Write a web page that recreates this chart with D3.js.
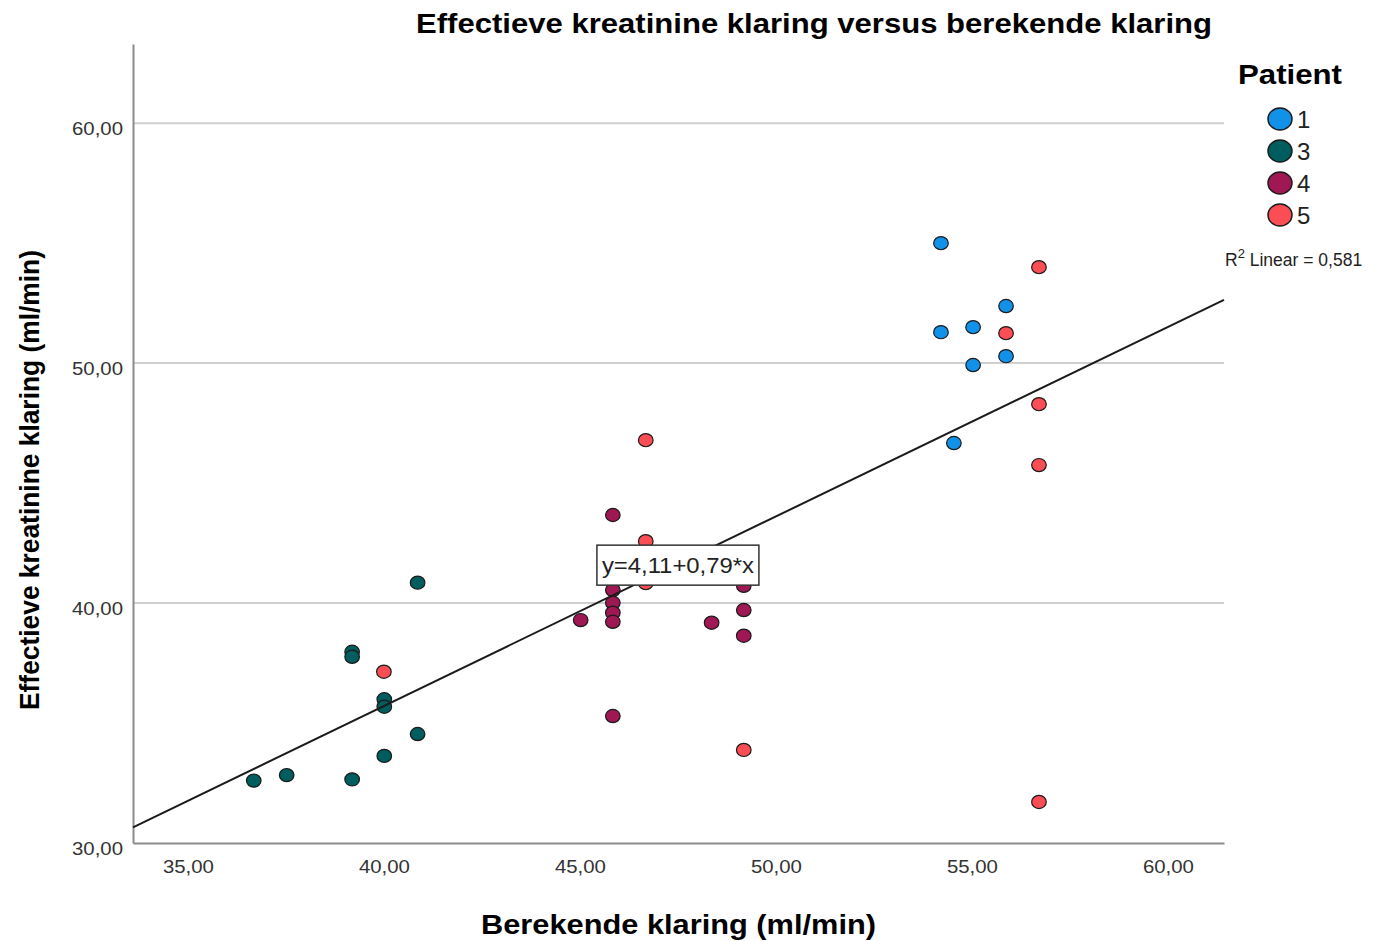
<!DOCTYPE html>
<html>
<head>
<meta charset="utf-8">
<script src="https://cdn.jsdelivr.net/npm/d3@7"></script>
<style>
  body { margin: 0; background: #fff; }
  text { font-family: "Liberation Sans", Arial, sans-serif; }
</style>
</head>
<body>
<svg width="1391" height="941"></svg>
<script>
// Patients and colours (SPSS / carbon palette)
const patients = ["1", "3", "4", "5"];
const colors = ["#1192e8", "#005d5d", "#9f1853", "#fa4d56"];

// Points per patient: [berekende klaring, effectieve klaring]
const patient1 = [[54.21, 55.0], [54.21, 51.29], [55.03, 51.5], [55.03, 49.92],
                  [55.87, 52.38], [55.87, 50.29], [54.54, 46.67]];
const patient3 = [[40.86, 40.85], [39.19, 37.97], [39.19, 37.76], [40.01, 35.99],
                  [40.01, 35.68], [40.86, 34.54], [40.01, 33.63], [37.52, 32.83],
                  [36.68, 32.6], [39.19, 32.65]];
const patient4 = [[45.84, 43.67], [45.84, 40.54], [45.84, 40.01], [45.84, 39.6],
                  [45.84, 39.22], [45.02, 39.29], [48.36, 39.18], [49.18, 40.72],
                  [49.18, 39.71], [49.18, 38.64], [45.84, 35.29]];
const patient5 = [[56.71, 54.0], [55.87, 51.25], [56.71, 48.29], [56.71, 45.75],
                  [56.71, 31.71], [46.68, 46.79], [46.68, 42.58], [46.68, 40.83],
                  [49.18, 33.88], [40.0, 37.14]];
const series = [patient1, patient3, patient4, patient5];

// Fit line y = a + b*x
const intercept = 4.11, slope = 0.79;
const fitLabel = "y=4,11+0,79*x";
const r2 = "0,581";

const xTicks = [35, 40, 45, 50, 55, 60];
const yTicks = [30, 40, 50, 60];

const svg = d3.select("svg");
const plot = {left: 133, right: 1224, top: 44, bottom: 843};

const x = d3.scaleLinear().domain([33.6, 61.43]).range([plot.left, plot.right]);
const y = d3.scaleLinear().domain([30, 63.3]).range([plot.bottom, plot.top]);
const fmt = d => d3.format(".2f")(d).replace(".", ",");

// Gridlines
svg.append("g")
  .selectAll("line")
  .data(yTicks.filter(d => d > 30))
  .enter()
  .append("line")
    .attr("x1", plot.left).attr("x2", plot.right)
    .attr("y1", d => y(d)).attr("y2", d => y(d))
    .attr("stroke", "#cfcfcf")
    .attr("stroke-width", 2);

// Axes
const xAxis = svg.append("g")
  .attr("transform", `translate(0,${plot.bottom})`)
  .call(d3.axisBottom(x).tickValues(xTicks).tickFormat(fmt).tickSize(0));
const yAxis = svg.append("g")
  .attr("transform", `translate(${plot.left},0)`)
  .call(d3.axisLeft(y).tickValues(yTicks).tickFormat(fmt).tickSize(0).tickPadding(10));
[xAxis, yAxis].forEach(g => {
  g.select(".domain").attr("stroke", "#8c8c8c").attr("stroke-width", 2);
  g.selectAll("text").attr("font-size", 18).attr("fill", "#333")
    .attr("font-family", "Liberation Sans, Arial, sans-serif")
    .attr("textLength", 51).attr("lengthAdjust", "spacingAndGlyphs");
});
xAxis.selectAll("text").attr("y", 0).attr("dy", 30);
yAxis.selectAll("text").attr("dy", 11);

// Points
series.forEach((pts, i) => {
  svg.append("g")
    .selectAll("ellipse")
    .data(pts)
    .enter()
    .append("ellipse")
      .attr("cx", d => x(d[0]))
      .attr("cy", d => y(d[1]))
      .attr("rx", 7.3)
      .attr("ry", 6.6)
      .attr("fill", colors[i])
      .attr("stroke", "#1a1a1a")
      .attr("stroke-width", 1.2);
});

// Fit line
const xd = x.domain();
svg.append("line")
  .attr("x1", x(xd[0])).attr("y1", y(intercept + slope * xd[0]))
  .attr("x2", x(xd[1])).attr("y2", y(intercept + slope * xd[1]))
  .attr("stroke", "#1a1a1a")
  .attr("stroke-width", 2);

// Fit label
const lx = x(47.5), ly = y(41.58);
svg.append("rect")
  .attr("x", lx - 81).attr("y", ly - 20)
  .attr("width", 162).attr("height", 40)
  .attr("fill", "#fff")
  .attr("stroke", "#333")
  .attr("stroke-width", 1.5);
svg.append("text")
  .attr("x", lx).attr("y", ly + 8)
  .attr("text-anchor", "middle")
  .attr("font-size", 22)
  .attr("fill", "#222")
  .attr("textLength", 152).attr("lengthAdjust", "spacingAndGlyphs")
  .text(fitLabel);

// Title and axis labels
svg.append("text")
  .attr("x", 814).attr("y", 33)
  .attr("text-anchor", "middle")
  .attr("font-size", 28).attr("font-weight", "bold")
  .attr("textLength", 796).attr("lengthAdjust", "spacingAndGlyphs")
  .text("Effectieve kreatinine klaring versus berekende klaring");
svg.append("text")
  .attr("x", 678.5).attr("y", 934)
  .attr("text-anchor", "middle")
  .attr("font-size", 28).attr("font-weight", "bold")
  .attr("textLength", 395).attr("lengthAdjust", "spacingAndGlyphs")
  .text("Berekende klaring (ml/min)");
svg.append("text")
  .attr("transform", "translate(39,480) rotate(-90)")
  .attr("text-anchor", "middle")
  .attr("font-size", 27).attr("font-weight", "bold")
  .attr("textLength", 460).attr("lengthAdjust", "spacingAndGlyphs")
  .text("Effectieve kreatinine klaring (ml/min)");

// Legend
svg.append("text")
  .attr("x", 1238).attr("y", 84)
  .attr("font-size", 28).attr("font-weight", "bold")
  .attr("textLength", 104).attr("lengthAdjust", "spacingAndGlyphs")
  .text("Patient");
const legend = svg.append("g")
  .selectAll("g")
  .data(patients)
  .enter()
  .append("g")
    .attr("transform", (d, i) => `translate(1280,${119 + i * 32})`);
legend.append("ellipse")
  .attr("rx", 12)
  .attr("ry", 11)
  .attr("fill", (d, i) => colors[i])
  .attr("stroke", "#1a1a1a")
  .attr("stroke-width", 1.5);
legend.append("text")
  .attr("x", 17).attr("y", 9)
  .attr("font-size", 24).attr("fill", "#222")
  .text(d => d);

const r2t = svg.append("text")
  .attr("x", 1225).attr("y", 266)
  .attr("font-size", 17.5).attr("fill", "#222");
r2t.append("tspan").text("R");
r2t.append("tspan").attr("dy", -8).attr("font-size", 13).text("2");
r2t.append("tspan").attr("dy", 8).text(" Linear = " + r2);
</script>
</body>
</html>
